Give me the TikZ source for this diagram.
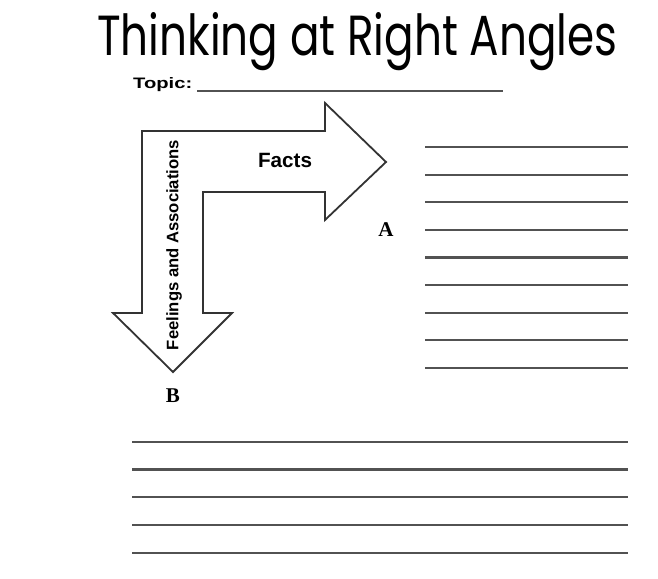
\documentclass[tikz,border=0pt]{standalone}
\usepackage{fontspec}
\newfontfamily\titlefont{Poppins}
\newfontfamily\labelfont{Liberation Sans}
\newfontfamily\letterfont{Liberation Serif}
\begin{document}
\begin{tikzpicture}[x=1pt,y=-1pt,
  ruled/.style={line width=2.2pt,draw=black!68},
  outline/.style={line width=1.8pt,draw=black!80,line join=miter},
  lbl/.style={inner sep=0pt,font=\labelfont\bfseries},
  letter/.style={inner sep=0pt,font=\letterfont\bfseries\fontsize{21}{21}\selectfont}]
\useasboundingbox[fill=white] (0,0) rectangle (658,578);
% title
\node[inner sep=0pt,anchor=base west] (title) at (97,55) {\resizebox{520pt}{43pt}{\titlefont Thinking at Right Angles}};
% topic
\node[lbl,anchor=west] (topic) at (133,85) {\resizebox{59pt}{11pt}{Topic:}};
\coordinate (tl1) at (197,91);
\coordinate (tl2) at (503,91);
\draw[ruled] (tl1) -- (tl2);
% bent arrow
\draw[outline] (142,131) -- (325,131) -- (325,103) -- (386,162) -- (325,220) -- (325,192)
  -- (203,192) -- (203,313) -- (232,313) -- (173,372) -- (113,313) -- (142,313) -- cycle;
\node[lbl] (facts) at (285,160) {\resizebox{54pt}{!}{Facts}};
\node[lbl,rotate=90] (feel) at (174,245) {\resizebox{210pt}{!}{Feelings and Associations}};
\node[letter] (A) at (386,230) {A};
\node[letter] (B) at (173,396) {B};
% right lines
\foreach \i in {0,...,8} {
  \draw[ruled] (425,147+27.6*\i) -- (628,147+27.6*\i);
}
% bottom lines
\foreach \i in {0,...,4} {
  \draw[ruled] (132,441.7+27.75*\i) -- (628,441.7+27.75*\i);
}
\end{tikzpicture}
\end{document}
